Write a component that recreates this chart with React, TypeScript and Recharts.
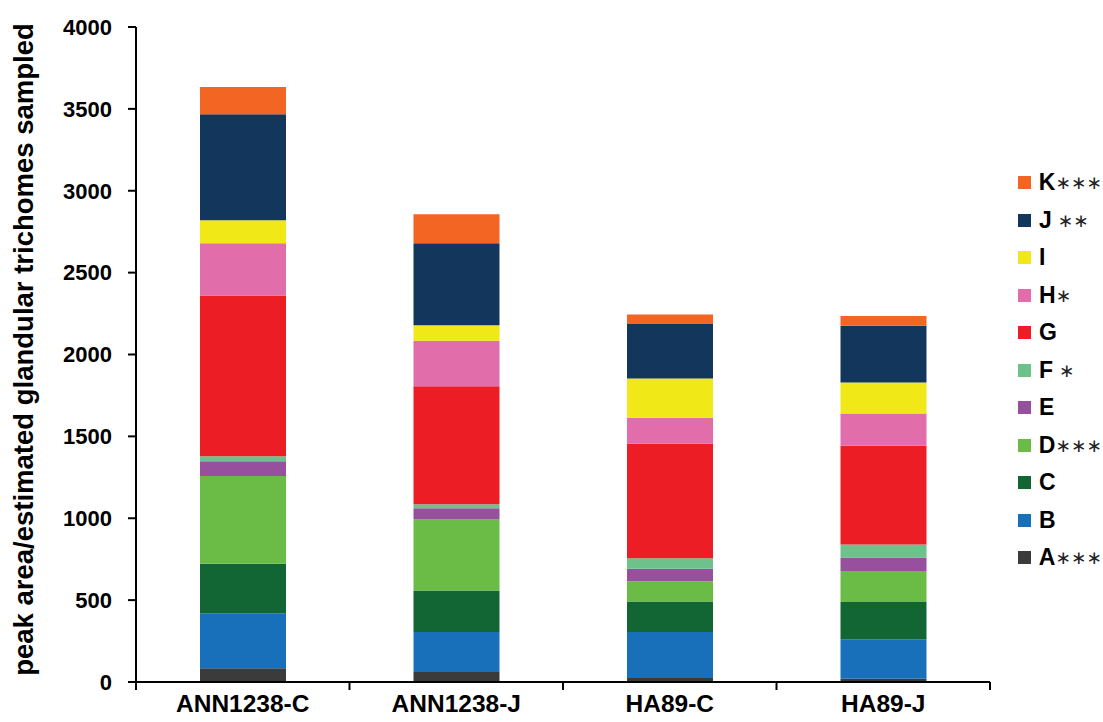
import React from "react";
import { BarChart, Bar, XAxis, YAxis } from "recharts";

const categories = ["ANN1238-C", "ANN1238-J", "HA89-C", "HA89-J"];
const seriesKeys = ["A", "B", "C", "D", "E", "F", "G", "H", "I", "J", "K"];
const legendStars = ["***", "", "", "***", "", " *", "", "*", "", " **", "***"];
const colors = ["#3b3b3b", "#1870ba", "#116634", "#6bbb47", "#97509e", "#6dc18b", "#ec1d24", "#e16daa", "#f1e917", "#13365d", "#f26522"];

const A = [84, 61, 24, 20];
const B = [336, 245, 282, 241];
const C = [302, 253, 186, 227];
const D = [536, 433, 124, 190];
const E = [90, 69, 76, 83];
const F = [31, 25, 63, 78];
const G = [982, 720, 700, 604];
const H = [319, 278, 159, 196];
const I = [140, 94, 239, 190];
const J = [647, 502, 333, 347];
const K = [166, 177, 59, 59];
const yTicks = [0, 500, 1000, 1500, 2000, 2500, 3000, 3500, 4000];
const yLabel = "peak area/estimated glandular trichomes sampled";

const seriesValues = [A, B, C, D, E, F, G, H, I, J, K];
const data = categories.map((name, i) => {
  const row: Record<string, any> = { name };
  seriesKeys.forEach((k, s) => {
    row[k] = seriesValues[s][i];
  });
  return row;
});

const W = 1103;
const HGT = 722;
const MARGIN = { top: 27, right: 113, bottom: 0, left: 0 };
const XH = 40;
const YW = 136;
const BAND = (W - MARGIN.left - YW - MARGIN.right) / categories.length;
const FONT = "'Liberation Sans', Arial, sans-serif";

const XTick = (props: any) => {
  const { x, y, payload, index } = props;
  return (
    <g>
      <line x1={x - BAND / 2} x2={x - BAND / 2} y1={y} y2={y + 8} stroke="#000" strokeWidth={2} />
      {index === categories.length - 1 && (
        <line x1={x + BAND / 2} x2={x + BAND / 2} y1={y} y2={y + 8} stroke="#000" strokeWidth={2} />
      )}
      <text x={x} y={y + 30} textAnchor="middle" fontFamily={FONT} fontWeight="bold" fontSize={24.5} fill="#000">
        {payload.value}
      </text>
    </g>
  );
};

const LegendBox = () => {
  const items = seriesKeys.map((k, i) => ({ k, i })).reverse();
  return (
    <div style={{ position: "absolute", left: 1018, top: 164, width: 84, fontFamily: FONT }}>
      {items.map(({ k, i }) => (
        <div key={k} style={{ display: "flex", alignItems: "center", height: 37.5, whiteSpace: "nowrap" }}>
          <span style={{ display: "inline-block", width: 13, height: 13, background: colors[i], marginRight: 8 }} />
          <span style={{ fontWeight: "bold", fontSize: 23, color: "#000" }}>{k}</span>
          <span style={{ fontWeight: "normal", fontSize: 18.5, color: "#222", whiteSpace: "pre", fontFamily: "'DejaVu Sans', sans-serif" }}>
            {legendStars[i].replace(/\*/g, "\u2217")}
          </span>
        </div>
      ))}
    </div>
  );
};

export default function App() {
  return (
    <div style={{ position: "absolute", left: 0, top: 0, width: W, height: HGT, background: "#fff" }}>
      <BarChart width={W} height={HGT} data={data} margin={MARGIN} barSize={86}>
        <XAxis
          dataKey="name"
          tick={<XTick />}
          tickSize={0}
          tickMargin={0}
          tickLine={false}
          axisLine={{ stroke: "#000", strokeWidth: 2 }}
          height={XH}
          interval={0}
        />
        <YAxis
          domain={[0, 4000]}
          ticks={yTicks}
          width={YW}
          tickSize={8}
          tickMargin={16}
          axisLine={{ stroke: "#000", strokeWidth: 2 }}
          tickLine={{ stroke: "#000", strokeWidth: 2 }}
          tick={{ fontFamily: FONT, fontWeight: "bold", fontSize: 22, fill: "#000" }}
          label={{
            value: yLabel,
            angle: -90,
            position: "center",
            dx: -45,
            dy: -5,
            style: { fontFamily: FONT, fontWeight: "bold", fontSize: 27.5, fill: "#000" },
          }}
        />
        {seriesKeys.map((k, i) => (
          <Bar key={k} dataKey={k} stackId="s" fill={colors[i]} isAnimationActive={false} />
        ))}
      </BarChart>
      <LegendBox />
    </div>
  );
}
